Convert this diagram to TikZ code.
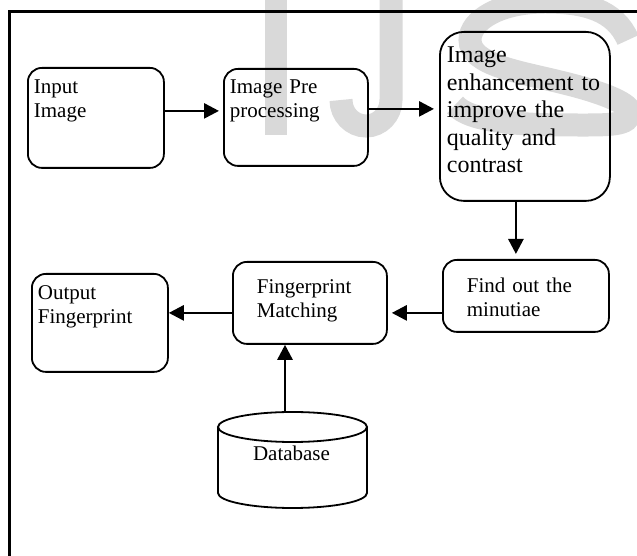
\documentclass[tikz,border=0pt]{standalone}
\usepackage{fontspec}
\setmainfont{Liberation Serif}
\usetikzlibrary{arrows.meta}

\tikzset{
  blk/.style={draw, line width=1.8pt, rounded corners=14pt, anchor=north west,
    align=left, inner ysep=8pt, font=\fontsize{21}{24}\selectfont},
  arr/.style={line width=2.6pt, -{Triangle[length=15pt,width=15pt]}},
  wmark/.style={line width=23pt, draw=black!15}
}

\begin{document}
\begin{tikzpicture}[x=10pt,y=10pt]
\useasboundingbox (0,0) rectangle (63.7,55.6);
% grey letters behind the chart
\begin{scope}
\clip (0,0) rectangle (63.7,55.6);
\fill[black!15] (26.5,42.1) rectangle (28.7,56);
\draw[wmark] (39.1,56) -- (39.1,45.6) arc (0:-180:2.5 and 2.6);
\draw[wmark] (62.8,51.6) .. controls (61.5,54.6) and (58.5,55.4) .. (54.5,55.4)
  .. controls (50.0,55.4) and (47.0,53.6) .. (47.0,51.6)
  .. controls (47.0,49.1) and (52.0,48.4) .. (56.0,47.4)
  .. controls (61.0,46.2) and (63.0,45.1) .. (63.0,44.4)
  .. controls (63.0,43.0) and (61.0,43.1) .. (57.0,43.1)
  .. controls (52.0,43.1) and (47.0,43.4) .. (45.5,45.1);
\end{scope}
% frame
\draw[line width=3pt] (63.7,54.4) -- (0.95,54.4) -- (0.95,0);
% steps
\node[blk, text width=124pt, inner xsep=6pt, text height=18pt, text depth=66pt] (in) at (2.7,48.9) {Input\\Image};
\node[blk, text width=132pt, inner xsep=6pt, text height=17pt, text depth=64pt] (pre) at (22.3,48.8) {Image Pre\\processing};
\node[blk, rounded corners=24pt, font=\fontsize{24}{27.5}\selectfont, text width=156pt, inner xsep=7pt,
  text height=23pt, text depth=130pt] (enh) at (43.9,52.5) {Image\\enhancement to\\improve the\\quality and\\contrast};
\node[blk, text width=118pt, inner xsep=24pt, text height=25pt, text depth=31pt] (find) at (44.2,29.7) {Find out the\\minutiae};
\node[blk, text width=106pt, inner xsep=24pt, text height=24pt, text depth=42pt] (match) at (23.2,29.5) {Fingerprint\\Matching};
\node[blk, text width=124pt, inner xsep=6pt, text height=18pt, text depth=64pt] (out) at (3.1,28.3) {Output\\Fingerprint};
% database
\draw[line width=1.8pt] (21.8,12.9) -- (21.8,6.3) arc (180:360:7.45 and 1.5) -- (36.7,12.9);
\draw[line width=1.8pt] (29.25,12.9) ellipse (7.45 and 1.5);
\node[font=\fontsize{21}{24}\selectfont, anchor=base] (db) at (29.15,9.5) {Database};
\coordinate (dbtop) at (28.5,14.4);
% arrows
\draw[arr, shorten >=4pt] ([yshift=7pt]in.east) -- ([yshift=7pt]in.east -| pre.west);
\draw[arr, shorten >=5pt] ([yshift=8.5pt]pre.east) -- ([yshift=8.5pt]pre.east -| enh.west);
\draw[arr, shorten >=5pt] ([xshift=-9pt]enh.south) -- ([xshift=-9pt]enh.south |- find.north);
\draw[arr, shorten >=4pt] ([yshift=-17pt]find.west) -- ([yshift=-17pt]find.west -| match.east);
\draw[arr] ([yshift=-10pt]match.west) -- ([yshift=-10pt]match.west -| out.east);
\draw[arr] (dbtop) -- (dbtop |- match.south);
\end{tikzpicture}
\end{document}
